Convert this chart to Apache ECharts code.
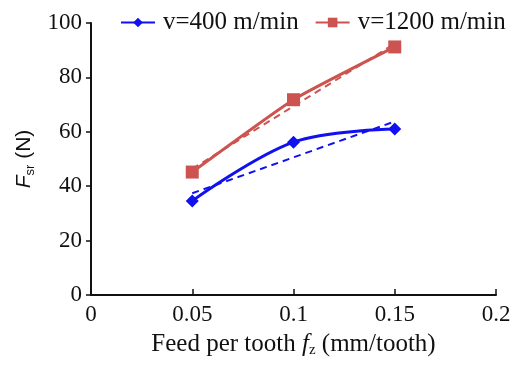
<!DOCTYPE html>
<html><head><meta charset="utf-8">
<script src="https://cdn.jsdelivr.net/npm/echarts@6/dist/echarts.min.js"></script>
<style>html,body{margin:0;padding:0;background:#fff}#c{width:518px;height:366px}</style>
</head><body><div id="c"></div>
<script>
const feed = [0.05, 0.1, 0.15];
const v400 = [34.6, 56.2, 61.0];
const v1200 = [45.2, 71.8, 91.2];
const fit400 = [37.4, 63.8];
const fit1200 = [46.4, 92.4];
const fitX = [0.05, 0.15];
const xTicks = [0, 0.05, 0.1, 0.15, 0.2];
const yTicks = [0, 20, 40, 60, 80, 100];

const blue = '#1010f0', red = '#cd5350';
const font = 'Liberation Serif';
const sans = 'Liberation Sans';
const chart = echarts.init(document.getElementById('c'));
chart.setOption({
  animation: false,
  textStyle: {fontFamily: font},
  grid: {left: 91, right: 22, top: 23, bottom: 71, containLabel: false},
  legend: {
    top: 5, left: 115, itemGap: 16, itemWidth: 34, itemHeight: 12,
    textStyle: {fontFamily: font, fontSize: 25, color: '#111', padding: [0, 0, 0, 3]},
    data: ['v=400 m/min', 'v=1200 m/min']
  },
  xAxis: {
    type: 'value', min: 0, max: 0.2, interval: 0.05,
    axisLine: {lineStyle: {color: '#111', width: 2}},
    axisTick: {inside: true, length: 6, lineStyle: {color: '#111', width: 1.5}},
    splitLine: {show: false},
    axisLabel: {fontFamily: font, fontSize: 23, color: '#111', margin: 8,
      formatter: v => xTicks.includes(+v.toFixed(2)) ? String(+v.toFixed(2)) : ''},
    name: '{n|Feed per tooth }{i|f}{s|z}{n| (mm/tooth)}',
    nameLocation: 'middle', nameGap: 36,
    nameTextStyle: {rich: {
      n: {fontFamily: font, fontSize: 25, color: '#111'},
      i: {fontFamily: font, fontSize: 25, fontStyle: 'italic', color: '#111'},
      s: {fontFamily: font, fontSize: 15, color: '#111', padding: [12, 0, 0, 0]}
    }}
  },
  yAxis: {
    type: 'value', min: 0, max: 100, interval: 20,
    axisLine: {show: true, lineStyle: {color: '#111', width: 2}},
    axisTick: {show: true, inside: false, length: 5, lineStyle: {color: '#111', width: 1.5}},
    splitLine: {show: false},
    axisLabel: {fontFamily: font, fontSize: 23, color: '#111', margin: 9},
    name: '{i|F}{s|sr}{n| (N)}',
    nameLocation: 'middle', nameGap: 51, nameRotate: 90,
    nameTextStyle: {rich: {
      n: {fontFamily: sans, fontSize: 21, color: '#111'},
      i: {fontFamily: sans, fontSize: 21, fontStyle: 'italic', color: '#111'},
      s: {fontFamily: sans, fontSize: 13, color: '#111', padding: [12, 0, 0, 0]}
    }}
  },
  series: [
    {name: 'v=400 m/min', type: 'line', smooth: 0.35,
      data: feed.map((x, i) => [x, v400[i]]),
      symbol: 'diamond', symbolSize: 13,
      lineStyle: {color: blue, width: 3}, itemStyle: {color: blue}, z: 5},
    {name: 'v=1200 m/min', type: 'line', smooth: 0.15,
      data: feed.map((x, i) => [x, v1200[i]]),
      symbol: 'rect', symbolSize: 13,
      lineStyle: {color: red, width: 3}, itemStyle: {color: red}, z: 5},
    {name: 'fit400', type: 'line', data: fitX.map((x, i) => [x, fit400[i]]),
      symbol: 'none', lineStyle: {color: blue, width: 2, type: [7, 5]}, z: 3},
    {name: 'fit1200', type: 'line', data: fitX.map((x, i) => [x, fit1200[i]]),
      symbol: 'none', lineStyle: {color: red, width: 2, type: [7, 5]}, z: 3}
  ]
});
</script></body></html>
